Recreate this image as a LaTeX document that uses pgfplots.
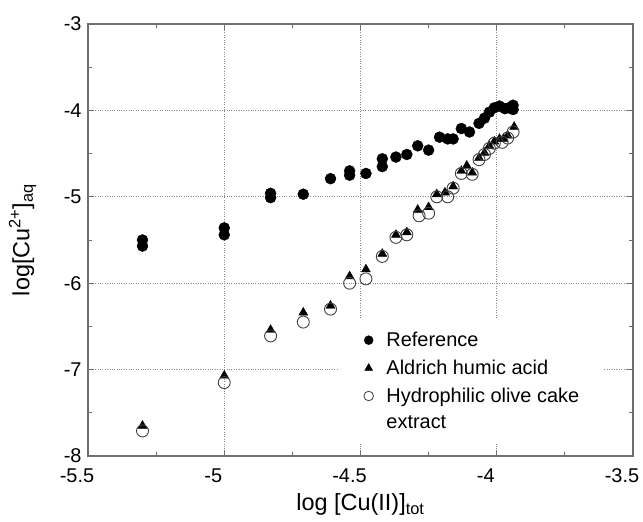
\documentclass[border=0pt]{standalone}
\usepackage{pgfplots}
\pgfplotsset{compat=1.18}
\usepackage{fontspec}
\setmainfont{Liberation Sans}
\definecolor{framegray}{HTML}{6E6E6E}
\definecolor{gridgray}{HTML}{8A8A8A}
\begin{document}
\begin{tikzpicture}
\path[use as bounding box] (-88bp,-66bp) rectangle (555bp,456bp);
\begin{axis}[
  at={(0,0)}, anchor=south west,
  width=545bp, height=432bp, scale only axis,
  xmin=-5.5, xmax=-3.5, ymin=-8, ymax=-3,
  xtick={-5.5,-5,-4.5,-4,-3.5},
  ytick={-8,-7,-6,-5,-4,-3},
  minor xtick={-5.25,-4.75,-4.25,-3.75},
  minor ytick={-7.5,-6.5,-5.5,-4.5,-3.5},
  tick align=inside,
  major tick length=6bp, minor tick length=4bp,
  every tick/.style={framegray, line width=0.8bp},
  axis line style={framegray, line width=1.3bp},
  grid=major,
  major grid style={gridgray, dotted, line width=0.8bp},
  /pgf/number format/assume math mode=true,
  ticklabel style={font=\fontsize{20}{23}\selectfont},
  xticklabel style={yshift=-9bp, xshift=-11bp},
  yticklabel style={xshift=-3bp},
  xlabel={log [Cu(II)]\textsubscript{tot}},
  ylabel={log[Cu\textsuperscript{2+}]\textsubscript{aq}},
  label style={font=\fontsize{23.5}{27}\selectfont},
  xlabel style={at={(axis description cs:0.5,-0.112)}, anchor=center},
  ylabel style={at={(axis description cs:-0.12,0.5)}, anchor=center, rotate=0},
  legend style={draw=none, fill=white, at={(axis description cs:0.4587,0.3194)}, anchor=north west,
    font=\fontsize{20}{24}\selectfont, cells={anchor=west},
    row sep=8bp, column sep=11bp, inner xsep=22bp, inner ysep=12bp},
  legend cell align=left,
  clip=false,
]
\addplot[only marks, mark=*, mark size=5.5bp, black, forget plot] coordinates {
(-5.30,-5.50) (-5.30,-5.57) (-5.00,-5.36) (-5.00,-5.44) (-4.83,-4.96) (-4.83,-5.01)
(-4.71,-4.97) (-4.61,-4.79) (-4.54,-4.70) (-4.54,-4.75) (-4.48,-4.73) (-4.42,-4.56)
(-4.42,-4.65) (-4.37,-4.54) (-4.33,-4.51) (-4.29,-4.41) (-4.25,-4.46) (-4.21,-4.31)
(-4.18,-4.33) (-4.16,-4.33) (-4.13,-4.21) (-4.10,-4.25) (-4.065,-4.15) (-4.045,-4.09)
(-4.027,-4.02) (-4.009,-3.97) (-3.99,-3.95) (-3.97,-3.98) (-3.955,-3.97) (-3.94,-3.94)
(-3.94,-3.99)
};
\addplot[only marks, mark=triangle*, mark size=5.2bp, black, forget plot] coordinates {
(-5.30,-7.65) (-5.00,-7.07) (-4.83,-6.54) (-4.71,-6.34) (-4.61,-6.26) (-4.54,-5.92)
(-4.48,-5.84) (-4.42,-5.66) (-4.37,-5.44) (-4.33,-5.41) (-4.29,-5.15) (-4.25,-5.12)
(-4.22,-4.97) (-4.19,-4.95) (-4.16,-4.88) (-4.13,-4.70) (-4.11,-4.64) (-4.09,-4.72)
(-4.065,-4.55) (-4.045,-4.49) (-4.027,-4.41) (-4.009,-4.36) (-3.99,-4.33) (-3.975,-4.33)
(-3.96,-4.29) (-3.936,-4.19)
};
\addplot[only marks, mark=o, mark size=6bp, black!75, mark options={line width=0.9bp}, forget plot] coordinates {
(-5.30,-7.71) (-5.00,-7.15) (-4.83,-6.61) (-4.71,-6.45) (-4.61,-6.30) (-4.54,-6.00)
(-4.48,-5.95) (-4.42,-5.69) (-4.37,-5.47) (-4.33,-5.44) (-4.285,-5.22) (-4.25,-5.19)
(-4.22,-5.00) (-4.18,-5.00) (-4.16,-4.90) (-4.13,-4.73) (-4.09,-4.74) (-4.065,-4.57)
(-4.045,-4.51) (-4.027,-4.44) (-4.009,-4.38) (-3.98,-4.37) (-3.96,-4.32) (-3.94,-4.25)
};
\addlegendimage{only marks, mark=*, mark size=4.5bp, black}
\addlegendentry{Reference}
\addlegendimage{only marks, mark=triangle*, mark size=4.5bp, black}
\addlegendentry{Aldrich humic acid}
\addlegendimage{only marks, mark=o, mark size=4.8bp, black!75, mark options={line width=0.8bp}}
\addlegendentry{Hydrophilic olive cake}
\addlegendimage{empty legend}
\addlegendentry{extract}
\end{axis}
\end{tikzpicture}
\end{document}
